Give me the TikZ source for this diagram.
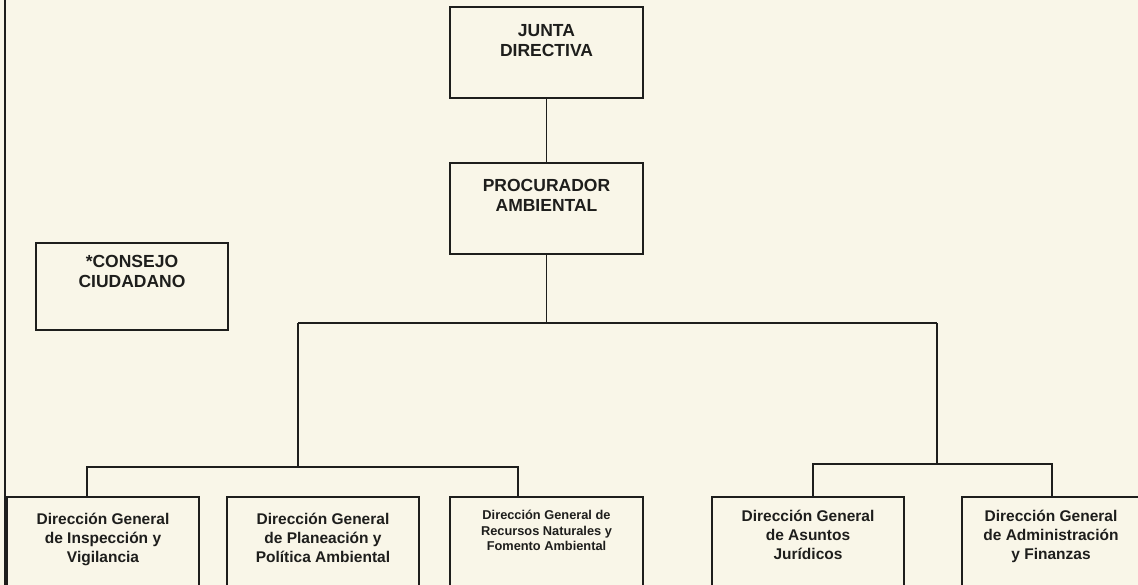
\documentclass[tikz,border=0pt]{standalone}
\usepackage{fontspec}
\setmainfont{Liberation Sans}
\definecolor{paper}{RGB}{249,246,232}
\definecolor{ink}{RGB}{30,30,28}
\tikzset{
  orgbox/.style={draw=ink, line width=1.5pt, fill=none, inner sep=0pt},
  bigtxt/.style={text=ink, align=center, inner sep=0pt, anchor=north,
     font={\fontsize{17.5}{20}\selectfont\bfseries}},
  midtxt/.style={text=ink, align=center, inner sep=0pt, anchor=north,
     font={\fontsize{15.5}{19}\selectfont\bfseries}},
  smalltxt/.style={text=ink, align=center, inner sep=0pt, anchor=north,
     font={\fontsize{12.8}{15.5}\selectfont\bfseries}},
  wire/.style={draw=ink, line width=1.5pt}
}
\begin{document}
\begin{tikzpicture}[x=1pt,y=-1pt]
\fill[paper] (0,0) rectangle (1138,585);
\useasboundingbox (0,0) rectangle (1138,585);
\clip (0,0) rectangle (1138,585);
% page border line
\draw[wire] (5,0) -- (5,590);
% top boxes
\node[orgbox, minimum width=193pt, minimum height=91pt,
  label={[bigtxt, yshift=-18pt]north:{JUNTA\\DIRECTIVA}}] (junta) at (546.5,52.5) {};
\node[orgbox, minimum width=193pt, minimum height=91pt,
  label={[bigtxt, yshift=-17pt]north:{PROCURADOR\\AMBIENTAL}}] (proc) at (546.5,208.5) {};
\node[orgbox, minimum width=192pt, minimum height=87pt,
  label={[bigtxt, yshift=-13pt]north:{*CONSEJO\\CIUDADANO}}] (consejo) at (132,286.5) {};
% bottom boxes
\node[orgbox, minimum width=192pt, minimum height=110pt,
  label={[midtxt, yshift=-17pt]north:{Dirección General\\de Inspección y\\Vigilancia}}] (insp) at (103,552) {};
\node[orgbox, minimum width=192pt, minimum height=110pt,
  label={[midtxt, yshift=-17pt]north:{Dirección General\\de Planeación y\\Política Ambiental}}] (plan) at (323,552) {};
\node[orgbox, minimum width=193pt, minimum height=110pt,
  label={[smalltxt, yshift=-14pt]north:{Dirección General de\\Recursos Naturales y\\Fomento Ambiental}}] (recur) at (546.5,552) {};
\node[orgbox, minimum width=192pt, minimum height=110pt,
  label={[midtxt, yshift=-14pt]north:{Dirección General\\de Asuntos\\Jurídicos}}] (asunt) at (808,552) {};
\node[orgbox, minimum width=178pt, minimum height=110pt,
  label={[midtxt, yshift=-14pt]north:{Dirección General\\de Administración\\y Finanzas}}] (admin) at (1051,552) {};
% bus coordinates
\coordinate (busL) at (298,323);
\coordinate (busR) at (937,323);
\coordinate (lbL) at (87,467);
\coordinate (lbR) at (518,467);
\coordinate (lbM) at (298,467);
\coordinate (rbL) at (813,464);
\coordinate (rbR) at (1052,464);
\coordinate (rbM) at (937,464);
% connectors
\draw[wire] (junta) -- (proc);
\draw[wire] (proc.south) -- (proc.south |- busL);
\draw[wire] (busL) -- (busR);
\draw[wire] (busL) -- (lbM);
\draw[wire] (busR) -- (rbM);
\draw[wire] (lbL |- insp.north) -- (lbL) -- (lbR) -- (lbR |- recur.north);
\draw[wire] (rbL |- asunt.north) -- (rbL) -- (rbR) -- (rbR |- admin.north);
\end{tikzpicture}
\end{document}
